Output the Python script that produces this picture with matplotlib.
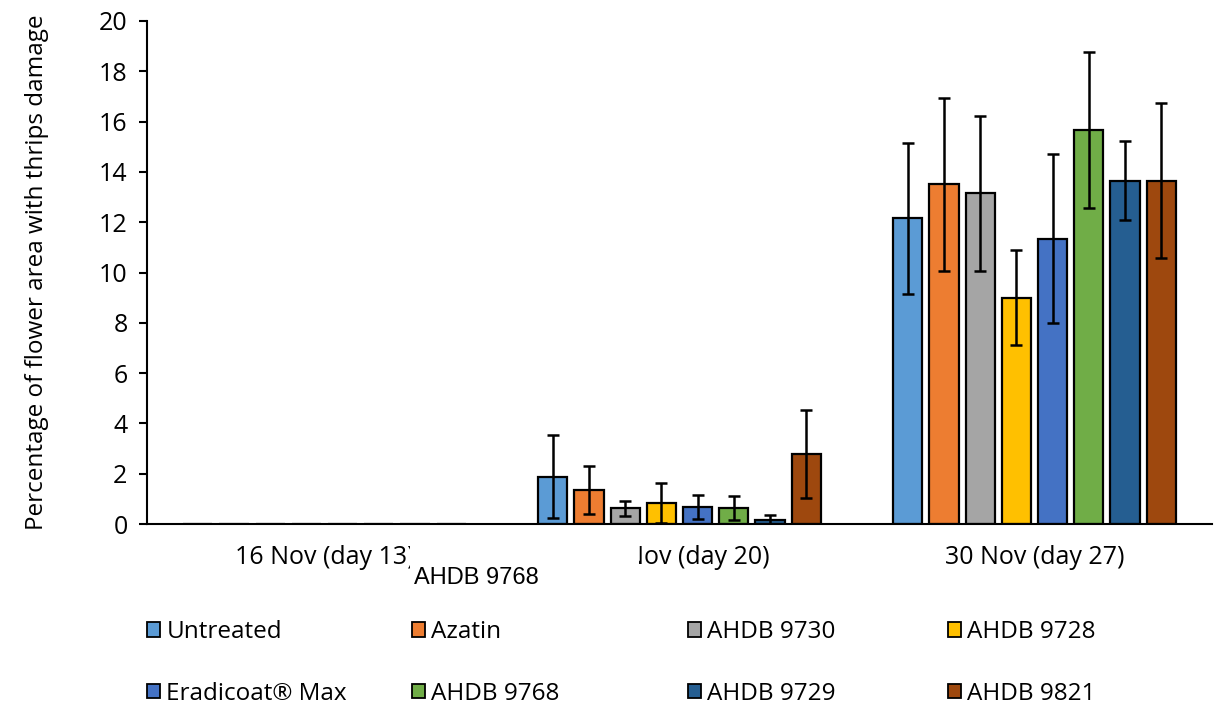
import numpy as np
import matplotlib.pyplot as plt
from matplotlib.patches import Patch, Rectangle

plt.rcParams['font.family'] = ['Open Sans', 'DejaVu Sans']

dates = ['16 Nov (day 13)', '23 Nov (day 20)', '30 Nov (day 27)']
treatments = ['Untreated', 'Azatin', 'AHDB 9730', 'AHDB 9728',
              'Eradicoat® Max', 'AHDB 9768', 'AHDB 9729', 'AHDB 9821']
colors = ['#5B9BD5', '#ED7D31', '#A5A5A5', '#FFC000',
          '#4472C4', '#70AD47', '#255E91', '#9E480E']

# mean damage (%) per treatment, one value per date
means = {
    'Untreated':      [0, 1.87, 12.15],
    'Azatin':         [0, 1.35, 13.50],
    'AHDB 9730':      [0, 0.62, 13.15],
    'AHDB 9728':      [0, 0.85, 9.00],
    'Eradicoat® Max': [0, 0.66, 11.35],
    'AHDB 9768':      [0, 0.62, 15.65],
    'AHDB 9729':      [0, 0.17, 13.65],
    'AHDB 9821':      [0, 2.77, 13.65],
}
# standard error
errs = {
    'Untreated':      [0, 1.65, 3.00],
    'Azatin':         [0, 0.95, 3.45],
    'AHDB 9730':      [0, 0.30, 3.08],
    'AHDB 9728':      [0, 0.80, 1.90],
    'Eradicoat® Max': [0, 0.48, 3.35],
    'AHDB 9768':      [0, 0.48, 3.10],
    'AHDB 9729':      [0, 0.17, 1.58],
    'AHDB 9821':      [0, 1.75, 3.08],
}

W, H = 1222, 709
fig = plt.figure(figsize=(W / 100, H / 100), dpi=100)
ax = fig.add_axes([147 / W, 1 - 524 / H, (1212 - 147) / W, (524 - 21) / H])

x = np.arange(len(dates))
step = 0.102
width = 0.082
handles = []
for k, t in enumerate(treatments):
    pos = x + (k - 3.5) * step
    ax.bar(pos, means[t], width, color=colors[k], edgecolor='black', linewidth=1.6,
           yerr=errs[t], error_kw=dict(ecolor='black', elinewidth=1.8, capsize=4.5, capthick=1.8),
           zorder=2)
    handles.append(Patch(facecolor=colors[k], edgecolor='black', linewidth=1.3, label=t))

ax.set_xlim(-0.5, 2.5)
ax.set_ylim(0, 20)
ax.set_yticks(range(0, 21, 2))
ax.set_xticks(x)
ax.set_xticklabels(dates, fontsize=18)
ax.tick_params(axis='x', length=0, pad=15)
ax.tick_params(axis='y', labelsize=18, length=6, width=1.5, direction='out', pad=8)
for s in ['top', 'right']:
    ax.spines[s].set_visible(False)
ax.spines['left'].set_linewidth(1.5)
ax.spines['bottom'].set_linewidth(1.5)
ax.set_ylabel('Percentage of flower area with thrips damage', fontsize=17.5, labelpad=36)

# legend: four columns, two rows
col_x = [147, 412, 688, 948]
for c in range(4):
    fig.legend(handles=[handles[c], handles[c + 4]], loc='upper left',
               bbox_to_anchor=(col_x[c] / W, 1 - 620 / H), frameon=False,
               fontsize=17.5, handlelength=0.55, handleheight=0.55,
               handletextpad=0.25, labelspacing=1.55, borderaxespad=0, borderpad=0)

# stray label pasted over the axis labels in the original figure
fig.patches.append(Rectangle((410 / W, 1 - 600 / H), 229 / W, 62 / H,
                             transform=fig.transFigure, facecolor='white',
                             edgecolor='none', zorder=5))
fig.text(414 / W, 1 - 578 / H, 'AHDB 9768', fontsize=17, family='Liberation Sans',
         va='center', ha='left', zorder=6)

fig.savefig('out.png', dpi=100)
